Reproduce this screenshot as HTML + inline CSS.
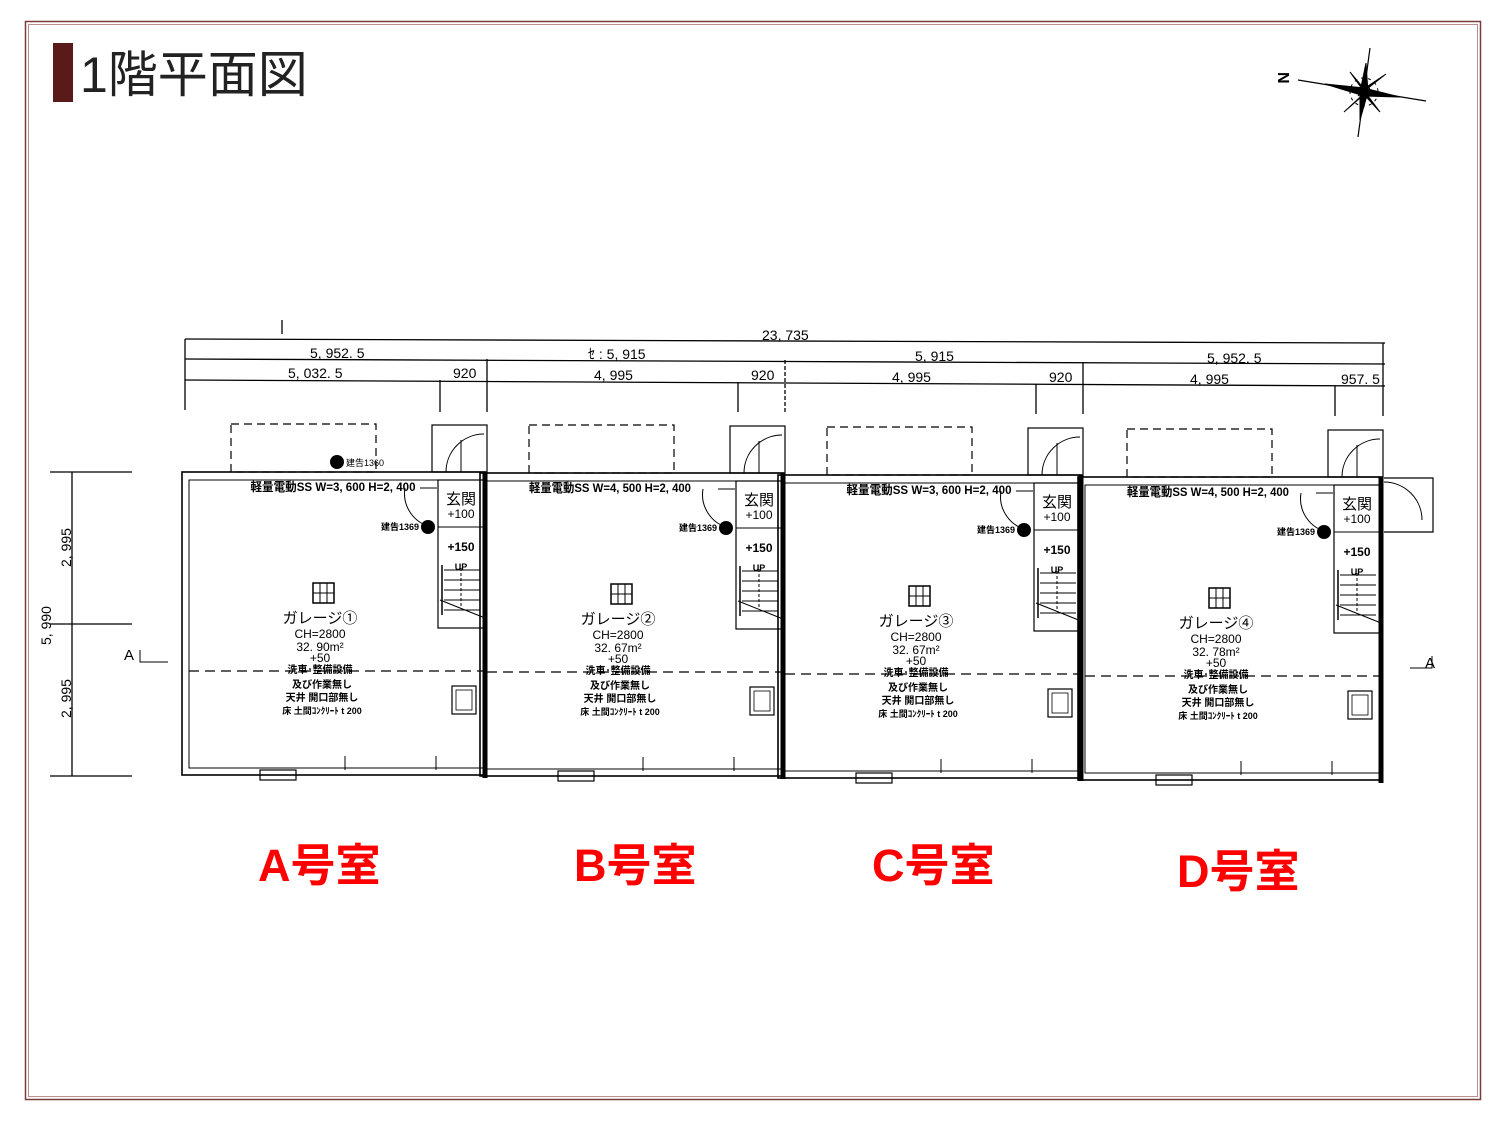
<!DOCTYPE html>
<html><head><meta charset="utf-8"><style>
html,body{margin:0;padding:0;background:#fff;}
body{width:1500px;height:1124px;overflow:hidden;position:relative;font-family:"Liberation Sans","Noto Sans CJK JP",sans-serif;}
</style></head><body>
<svg width="1500" height="1124" viewBox="0 0 1500 1124" xmlns="http://www.w3.org/2000/svg" style="position:absolute;left:0;top:0">
<rect x="25.5" y="21.5" width="1455" height="1078" fill="none" stroke="#7a3a3a" stroke-width="1.5"/>
<rect x="28.5" y="24.5" width="1449" height="1072" fill="none" stroke="#b89090" stroke-width="1"/>
<rect x="53" y="43" width="20" height="59" fill="#5a1a1a"/>
<text x="80" y="92" font-size="50" fill="#222" font-family="Liberation Sans,Noto Sans CJK JP,sans-serif">1階平面図</text>

<!-- compass -->
<g stroke="#000" fill="#000">
<line x1="1298" y1="80" x2="1426" y2="101" stroke-width="1.2"/>
<line x1="1370" y1="48" x2="1358" y2="137" stroke-width="1.2"/>
<polygon points="1325,84 1364,88 1364,96" />
<polygon points="1400,97 1364,96 1364,88"/>
<polygon points="1366,63 1360,92 1368,92"/>
<polygon points="1360,120 1368,92 1360,92"/>
<polygon points="1350,72 1370,96 1360,86"/>
<polygon points="1380,112 1358,88 1368,96"/>
<polygon points="1386,74 1358,96 1368,86"/>
<polygon points="1344,112 1370,88 1360,98"/>
<circle cx="1364" cy="92" r="14" fill="none" stroke-width="1" stroke-dasharray="3 4"/>
</g>
<text x="1276" y="86" font-size="16" font-weight="bold" transform="rotate(90 1284 80)">N</text>

<!-- dimension lines -->
<g stroke="#000" stroke-width="1.3" fill="none">
<line x1="185" y1="339" x2="1385" y2="343"/>
<line x1="185" y1="359" x2="1385" y2="364"/>
<line x1="185" y1="380" x2="1385" y2="386"/>
<line x1="185" y1="339" x2="185" y2="410"/>
<line x1="282" y1="320" x2="282" y2="334"/>
<line x1="440" y1="380" x2="440" y2="412"/>
<line x1="487" y1="359" x2="487" y2="412"/>
<line x1="738" y1="382" x2="738" y2="412"/>
<line x1="785" y1="360" x2="785" y2="412" stroke-dasharray="4 2"/>
<line x1="1036" y1="384" x2="1036" y2="414"/>
<line x1="1083" y1="362" x2="1083" y2="414"/>
<line x1="1335" y1="386" x2="1335" y2="416"/>
<line x1="1383" y1="343" x2="1383" y2="416"/>
<line x1="72" y1="472" x2="72" y2="776"/>
<line x1="50" y1="472" x2="132" y2="472"/>
<line x1="50" y1="624" x2="132" y2="624"/>
<line x1="50" y1="776" x2="132" y2="776"/>
</g>
<g font-family="Liberation Sans Narrow,Liberation Sans,sans-serif" font-size="14" fill="#000">
<text x="762" y="340">23, 735</text>
<text x="310" y="358">5, 952. 5</text>
<text x="588" y="359">ｾ : 5, 915</text>
<text x="915" y="361">5, 915</text>
<text x="1207" y="363">5, 952. 5</text>
<text x="288" y="378">5, 032. 5</text>
<text x="453" y="378">920</text>
<text x="594" y="380">4, 995</text>
<text x="751" y="380">920</text>
<text x="892" y="382">4, 995</text>
<text x="1049" y="382">920</text>
<text x="1190" y="384">4, 995</text>
<text x="1341" y="384">957. 5</text>
<text transform="translate(51 645) rotate(-90)">5, 990</text>
<text transform="translate(71 567) rotate(-90)">2, 995</text>
<text transform="translate(71 718) rotate(-90)">2, 995</text>
<text x="124" y="660" font-size="15">A</text>
<text x="1425" y="668" font-size="15">A</text>
</g>
<polyline points="140,650 140,662 168,662" fill="none" stroke="#000"/>
<polyline points="1432,656 1432,668 1410,668" fill="none" stroke="#000"/>

<defs>
<g id="unit">
<g fill="none" stroke="#000">
<rect x="182" y="472" width="303" height="303" stroke-width="1.6"/>
<rect x="189" y="480" width="296" height="288" stroke-width="1"/>
<line x1="485" y1="472" x2="485" y2="778" stroke-width="5"/>
<rect x="432" y="425" width="55" height="47" stroke-width="1.2"/>
<path d="M446 472 A38 38 0 0 1 484 434" stroke-width="1"/>
<line x1="461" y1="440" x2="461" y2="472"/>
<line x1="437" y1="488" x2="420" y2="488"/>
<path d="M405 488 A34 34 0 0 0 432 527" />
<rect x="438" y="480" width="47" height="148" stroke-width="1.2"/>
<line x1="438" y1="527" x2="485" y2="527"/>
<line x1="444" y1="570" x2="480" y2="570"/>
<line x1="444" y1="580" x2="480" y2="580"/>
<line x1="444" y1="590" x2="480" y2="590"/>
<line x1="444" y1="600" x2="480" y2="600"/>
<line x1="444" y1="610" x2="480" y2="610"/>
<line x1="442" y1="565" x2="442" y2="615" stroke-width="1.5"/>
<line x1="440" y1="600" x2="485" y2="618"/>
<line x1="461" y1="568" x2="461" y2="608" stroke-dasharray="3 2"/>
<rect x="231" y="424" width="145" height="48" stroke-dasharray="8 5" stroke-width="1.2"/>
<line x1="189" y1="671" x2="485" y2="671" stroke-dasharray="10 6" stroke-width="1.2"/>
<rect x="452" y="686" width="24" height="28" stroke-width="1.2"/>
<rect x="456" y="690" width="16" height="20" stroke-width="0.8"/>
<rect x="313" y="583" width="21" height="20" stroke-width="1.5"/>
<line x1="320" y1="583" x2="320" y2="603"/><line x1="327" y1="583" x2="327" y2="603"/><line x1="313" y1="593" x2="334" y2="593"/>
<rect x="260" y="770" width="36" height="10" stroke-width="1.2"/>
<line x1="345" y1="756" x2="345" y2="770"/><line x1="436" y1="756" x2="436" y2="770"/>
</g>
<circle cx="428" cy="527" r="7" fill="#000"/>
<g font-family="Liberation Sans Narrow,Liberation Sans,Noto Sans CJK JP,sans-serif" fill="#000" text-anchor="middle">
<text x="400" y="530" font-size="9" font-weight="bold">建告1369</text>
<text x="461" y="504" font-size="15">玄関</text>
<text x="461" y="518" font-size="12">+100</text>
<text x="461" y="551" font-size="12" font-weight="bold">+150</text>
<text x="461" y="570" font-size="9" font-weight="bold">UP</text>
<text x="320" y="638" font-size="12">CH=2800</text>
<text x="320" y="662" font-size="12">+50</text>
<text x="320" y="673" font-size="10" font-weight="bold">洗車･整備設備</text>
<text x="322" y="688" font-size="10" font-weight="bold">及び作業無し</text>
<text x="322" y="701" font-size="10" font-weight="bold">天井 開口部無し</text>
<text x="322" y="714" font-size="9" font-weight="bold">床 土間ｺﾝｸﾘｰﾄ t 200</text>
</g>
</g>
</defs>
<use href="#unit" x="0" y="0"/>
<use href="#unit" x="298" y="1"/>
<use href="#unit" x="596" y="3"/>
<use href="#unit" x="896" y="5"/>

<circle cx="337" cy="462" r="7" fill="#000"/>
<text x="346" y="466" font-size="9" font-family="Liberation Sans,Noto Sans CJK JP,sans-serif">建告1360</text>

<g font-family="Liberation Sans Narrow,Liberation Sans,Noto Sans CJK JP,sans-serif" fill="#000" text-anchor="middle">
<g transform="translate(0 0)">
<text x="333" y="491" font-size="12" font-weight="bold" textLength="165" lengthAdjust="spacingAndGlyphs">軽量電動SS W=3, 600 H=2, 400</text>
<text x="320" y="623" font-size="15">ガレージ①</text>
<text x="320" y="651" font-size="12">32. 90m²</text>
</g>
<g transform="translate(298 1)">
<text x="312" y="491" font-size="12" font-weight="bold" textLength="162" lengthAdjust="spacingAndGlyphs">軽量電動SS W=4, 500 H=2, 400</text>
<text x="320" y="623" font-size="15">ガレージ②</text>
<text x="320" y="651" font-size="12">32. 67m²</text>
</g>
<g transform="translate(596 3)">
<text x="333" y="491" font-size="12" font-weight="bold" textLength="165" lengthAdjust="spacingAndGlyphs">軽量電動SS W=3, 600 H=2, 400</text>
<text x="320" y="623" font-size="15">ガレージ③</text>
<text x="320" y="651" font-size="12">32. 67m²</text>
</g>
<g transform="translate(896 5)">
<text x="312" y="491" font-size="12" font-weight="bold" textLength="162" lengthAdjust="spacingAndGlyphs">軽量電動SS W=4, 500 H=2, 400</text>
<text x="320" y="623" font-size="15">ガレージ④</text>
<text x="320" y="651" font-size="12">32. 78m²</text>
</g>
</g>
<path d="M1384 478 L1433 478 L1433 532 L1384 532" fill="none" stroke="#000" stroke-width="1.2"/>
<path d="M1384 482 A38 38 0 0 1 1422 520" fill="none" stroke="#000"/>

<g font-family="Liberation Sans,Noto Sans CJK JP,sans-serif" font-weight="bold" font-size="45" fill="#f00">
<text x="258" y="881">A号室</text>
<text x="574" y="881">B号室</text>
<text x="872" y="881">C号室</text>
<text x="1177" y="887">D号室</text>
</g>
</svg>
</body></html>
